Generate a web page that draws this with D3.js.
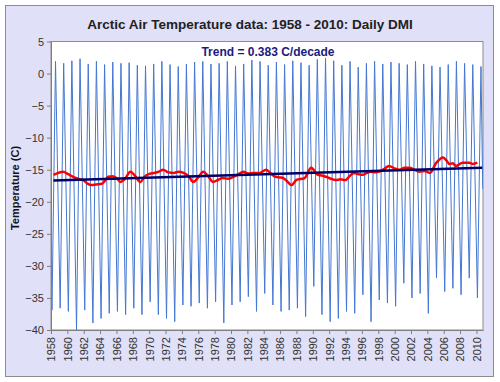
<!DOCTYPE html>
<html>
<head>
<meta charset="utf-8">
<script src="https://cdn.jsdelivr.net/npm/d3@7"></script>
<style>
  body { margin: 0; background: #fff; }
  text { font-family: "Liberation Sans", Arial, sans-serif; }
</style>
</head>
<body>
<div id="container"></div>
<script>
/* CONSTANTS AND GLOBALS */
const width = 500,
    height = 382,
    margin = { top: 41.5, bottom: 52, left: 51, right: 17 };

// DATA
// yearly winter minimum and summer maximum of the daily series, 1958 - 2010
const years = d3.range(1958, 2011);
const winterMin = [
    -36.9, -36.6, -37.1, -40.0, -36.9, -38.9, -38.2, -37.4, -37.1, -37.6,
    -36.6, -37.6, -35.6, -37.6, -38.2, -38.7, -36.1, -36.3, -35.8, -36.6,
    -35.6, -38.9, -36.1, -35.6, -34.8, -37.1, -34.3, -36.1, -37.1, -36.9,
    -36.6, -37.9, -33.2, -37.6, -38.7, -38.2, -37.1, -37.4, -34.5, -38.7,
    -35.3, -35.8, -36.3, -32.7, -35.0, -34.3, -37.4, -31.9, -34.0, -33.5,
    -34.5, -31.9, -35.0
];
const summerMax = [
    1.9, 1.6, 2.0, 2.3, 1.5, 1.9, 1.4, 1.8, 1.6, 1.7,
    1.3, 1.2, 1.5, 1.9, 1.4, 1.1, 1.5, 1.8, 1.9, 1.5,
    1.6, 1.9, 1.2, 1.5, 2.1, 1.9, 1.3, 1.8, 1.4, 2.0,
    1.7, 1.3, 2.2, 2.4, 2.0, 1.3, 1.9, 1.0, 1.6, 1.9,
    1.5, 1.8, 1.6, 1.4, 1.9, 1.5, 1.2, 1.0, 1.4, 1.9,
    1.6, 1.4, 1.1
];
const seriesStart = [1958.0, -28];
const seriesEnd = [2010.77, -18];

// running mean (red)
const meanTime = [
    1958.3, 1958.9, 1959.5, 1960.1, 1960.7, 1961.3, 1961.9, 1962.4, 1962.9, 1963.5,
    1964.2, 1964.6, 1965.0, 1965.5, 1966.0, 1966.5, 1967.0, 1967.7, 1968.3, 1968.9,
    1969.5, 1970.1, 1970.6, 1971.2, 1971.7, 1972.3, 1973.0, 1973.6, 1974.2, 1974.8,
    1975.4, 1976.0, 1976.6, 1977.2, 1977.8, 1978.4, 1979.0, 1979.6, 1980.3, 1980.9,
    1981.5, 1982.1, 1982.7, 1983.5, 1984.3, 1984.9, 1985.4, 1986.0, 1986.4, 1987.0,
    1987.4, 1988.0, 1989.0, 1989.8, 1990.6, 1991.1, 1991.6, 1992.2, 1992.8, 1993.4,
    1994.0, 1994.5, 1995.0, 1995.6, 1996.1, 1996.6, 1997.1, 1997.6, 1998.1, 1998.7,
    1999.3, 2000.0, 2000.6, 2001.2, 2001.8, 2002.4, 2003.0, 2003.7, 2004.3, 2005.1,
    2005.9, 2006.3, 2006.7, 2007.1, 2007.5, 2008.3, 2009.1, 2009.6, 2010.1
];
const meanValue = [
    -15.8, -15.5, -15.3, -15.7, -16.1, -16.4, -16.6, -17.1, -17.4, -17.3,
    -17.2, -16.7, -16.1, -16.0, -16.3, -16.9, -16.5, -15.3, -16.0, -16.9,
    -16.0, -15.6, -15.5, -15.3, -15.0, -15.4, -15.5, -15.3, -15.5, -16.0,
    -16.9, -16.2, -15.3, -16.0, -16.9, -16.6, -16.3, -16.4, -16.1, -15.7,
    -15.3, -15.6, -15.5, -15.5, -15.0, -15.6, -16.1, -16.2, -16.3, -17.0,
    -17.4, -16.6, -16.3, -14.7, -15.8, -15.9, -16.1, -16.4, -16.6, -16.5,
    -16.6, -16.0, -15.5, -15.7, -15.8, -15.5, -15.3, -15.4, -15.3, -14.9,
    -14.4, -14.8, -15.0, -14.7, -14.7, -15.0, -15.3, -15.2, -15.5, -13.9,
    -13.1, -13.5, -14.1, -14.0, -14.4, -13.9, -13.9, -14.1, -13.9
];

// linear trend (0.383 C/decade)
const trendTime = [1958.3, 2010.7];
const trendValue = [-16.7, -14.7];

const yTicks = d3.range(-40, 6, 5);
const xTicks = d3.range(1958, 2011, 2);

// SVG
const svg = d3.select("#container")
    .append("svg")
    .attr("width", width)
    .attr("height", height);

// chart background
svg.append("rect")
    .attr("x", 5.5).attr("y", 5.5)
    .attr("width", 488).attr("height", 371)
    .attr("fill", "#e0e0f8")
    .attr("stroke", "#8c8c8c");

// SCALES
const x = d3.scaleLinear()
    .domain([1958, 2010.8])
    .range([margin.left, width - margin.right]);
const y = d3.scaleLinear()
    .domain([-40, 5])
    .range([height - margin.bottom, margin.top]);

// plot area
svg.append("rect")
    .attr("x", x.range()[0]).attr("y", y.range()[1])
    .attr("width", x.range()[1] - x.range()[0])
    .attr("height", y.range()[0] - y.range()[1])
    .attr("fill", "#fff")
    .attr("stroke", "#8c8c8c");

svg.append("clipPath").attr("id", "clip")
    .append("rect")
    .attr("x", x.range()[0]).attr("y", y.range()[1])
    .attr("width", x.range()[1] - x.range()[0])
    .attr("height", y.range()[0] - y.range()[1]);

// DAILY SERIES (yearly trough / peak)
const daily = [seriesStart];
years.forEach((yr, i) => {
    daily.push([yr + 0.12, winterMin[i]]);
    daily.push([yr + 0.55, summerMax[i]]);
});
daily.push(seriesEnd);

const line = d3.line()
    .x(d => x(d[0]))
    .y(d => y(d[1]));

const g = svg.append("g").attr("clip-path", "url(#clip)");

g.append("path")
    .datum(daily)
    .attr("d", line)
    .attr("fill", "none")
    .attr("stroke", "#4577d2")
    .attr("stroke-width", 1);

g.append("path")
    .datum(meanTime.map((t, i) => [t, meanValue[i]]))
    .attr("d", line.curve(d3.curveMonotoneX))
    .attr("fill", "none")
    .attr("stroke", "#ff0000")
    .attr("stroke-width", 2.5);

g.append("path")
    .datum(trendTime.map((t, i) => [t, trendValue[i]]))
    .attr("d", d3.line().x(d => x(d[0])).y(d => y(d[1])))
    .attr("fill", "none")
    .attr("stroke", "#000066")
    .attr("stroke-width", 2.5);

// AXES
const yAxis = svg.append("g")
    .attr("transform", `translate(${x.range()[0]},0)`)
    .call(d3.axisLeft(y).tickValues(yTicks).tickSize(4).tickSizeOuter(0));
yAxis.select(".domain").attr("stroke", "#7f7f7f");
yAxis.selectAll(".tick line").attr("stroke", "#7f7f7f");
yAxis.selectAll("text")
    .attr("font-size", 11)
    .attr("fill", "#333")
    .attr("x", -7);

const xAxis = svg.append("g")
    .attr("transform", `translate(0,${y.range()[0]})`)
    .call(d3.axisBottom(x).tickValues(xTicks).tickFormat(d3.format("d")).tickSize(4).tickSizeOuter(0));
xAxis.select(".domain").attr("stroke", "#7f7f7f");
xAxis.selectAll(".tick line").attr("stroke", "#7f7f7f");
xAxis.selectAll("text")
    .attr("font-size", 11)
    .attr("fill", "#333")
    .attr("transform", "rotate(-90)")
    .attr("text-anchor", "end")
    .attr("x", -7)
    .attr("y", 0)
    .attr("dy", "0.35em");

// TEXT
svg.append("text")
    .attr("x", 250).attr("y", 29)
    .attr("text-anchor", "middle")
    .attr("font-size", 13.5)
    .attr("font-weight", "bold")
    .attr("fill", "#222")
    .text("Arctic Air Temperature data: 1958 - 2010: Daily DMI");

svg.append("text")
    .attr("x", 268).attr("y", 56)
    .attr("text-anchor", "middle")
    .attr("font-size", 12)
    .attr("font-weight", "bold")
    .attr("fill", "#1a1a80")
    .text("Trend = 0.383 C/decade");

svg.append("text")
    .attr("transform", "translate(19,188) rotate(-90)")
    .attr("text-anchor", "middle")
    .attr("font-size", 11)
    .attr("font-weight", "bold")
    .attr("fill", "#111")
    .text("Temperature (C)");
</script>
</body>
</html>
